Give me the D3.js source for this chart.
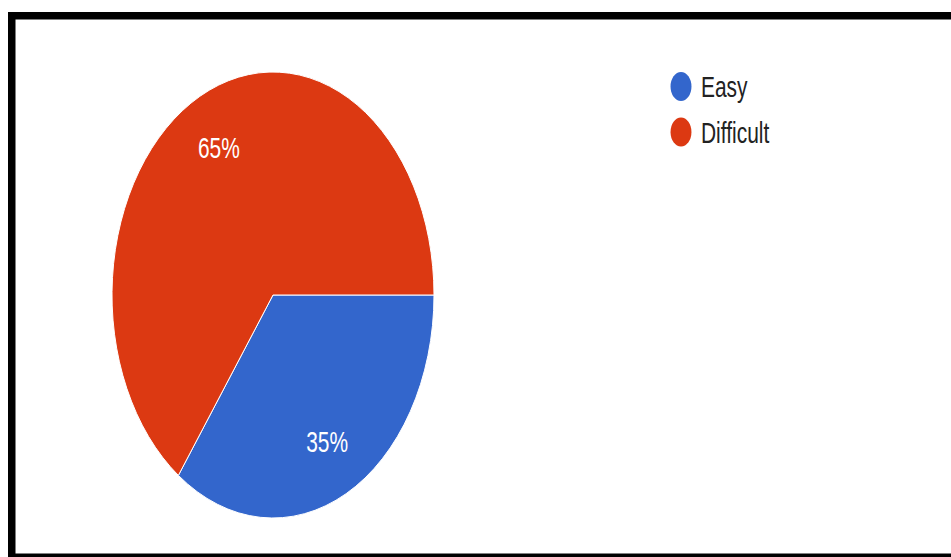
<!DOCTYPE html>
<html>
<head>
<meta charset="utf-8">
<script src="https://cdn.jsdelivr.net/npm/d3@7"></script>
<style>
  html, body { margin: 0; padding: 0; background: #fff; }
  svg { display: block; }
</style>
</head>
<body>
<svg id="chart" width="951" height="557"></svg>
<script>
// Survey answers: share of respondents per difficulty rating
const categories = ["Easy", "Difficult"];
const values = [35, 65];
const colors = ["#3366cc", "#dc3912"];

const W = 951, H = 557;
const svg = d3.select("#chart");
const font = "'Liberation Sans', Arial, sans-serif";

// Frame
svg.append("rect")
  .attr("x", 11.75).attr("y", 15.75)
  .attr("width", 1200).attr("height", 541.5)
  .attr("fill", "none")
  .attr("stroke", "#000")
  .attr("stroke-width", 7.5);

// Pie (drawn squeezed horizontally)
const R = 223, sx = 0.722;
const cx = 273, cy = 295;

const pie = d3.pie()
  .sort(null)
  .value(d => d.value)
  .startAngle(Math.PI / 2)
  .endAngle(Math.PI / 2 + 2 * Math.PI);

const data = categories.map((c, i) => ({ name: c, value: values[i], color: colors[i] }));
const arcs = pie(data);
const total = d3.sum(values);

const arc = d3.arc().innerRadius(0).outerRadius(R);
const labelArc = d3.arc().innerRadius(R * 0.74).outerRadius(R * 0.74);

const g = svg.append("g")
  .attr("transform", `translate(${cx},${cy}) scale(${sx},1)`);

g.selectAll("path.slice")
  .data(arcs)
  .join("path")
  .attr("class", "slice")
  .attr("d", arc)
  .attr("fill", d => d.data.color)
  .attr("stroke", "#fff")
  .attr("stroke-width", 1)
  .attr("vector-effect", "non-scaling-stroke");

g.selectAll("text.pct")
  .data(arcs)
  .join("text")
  .attr("class", "pct")
  .attr("x", d => labelArc.centroid(d)[0])
  .attr("y", d => labelArc.centroid(d)[1])
  .attr("dy", "0.36em")
  .attr("text-anchor", "middle")
  .attr("font-family", font)
  .attr("font-size", 29)
  .attr("fill", "#fff")
  .text(d => Math.round(d.data.value / total * 100) + "%");

// Legend
const legend = svg.append("g");
const items = legend.selectAll("g.item")
  .data(data)
  .join("g")
  .attr("class", "item")
  .attr("transform", (d, i) => `translate(681,${86.5 + i * 45.5}) scale(${sx},1)`);

items.append("circle")
  .attr("r", 14.5)
  .attr("fill", d => d.color);

items.append("text")
  .attr("x", 27.7)
  .attr("y", 10.5)
  .attr("font-family", font)
  .attr("font-size", 29)
  .attr("fill", "#222")
  .text(d => d.name);
</script>
</body>
</html>
